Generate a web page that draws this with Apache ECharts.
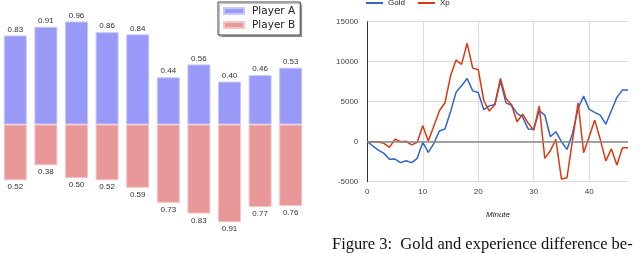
<!DOCTYPE html>
<html><head><meta charset="utf-8">
<script src="https://cdn.jsdelivr.net/npm/echarts@6/dist/echarts.min.js"></script>
<style>html,body{margin:0;padding:0;background:#fff}#c{width:640px;height:253px}</style>
</head><body><div id="c"></div>
<script>
const barCategories = ['1','2','3','4','5','6','7','8','9','10'];
const playerA = [0.83, 0.91, 0.96, 0.86, 0.84, 0.44, 0.56, 0.40, 0.46, 0.53];
const playerB = [0.52, 0.38, 0.50, 0.52, 0.59, 0.73, 0.83, 0.91, 0.77, 0.76];

const minutes = [0,1,2,3,4,5,6,7,8,9,10,11,12,13,14,15,16,17,18,19,20,21,22,23,24,25,26,27,28,29,30,31,32,33,34,35,36,37,38,39,40,41,42,43,44,45,46,47];
const gold = [0,-540,-1040,-1460,-2200,-2170,-2620,-2380,-2620,-2080,
  -80,-1330,-200,1330,1580,3750,6170,7000,7900,6350,
  6150,4000,4480,4650,7600,4850,4560,3540,3080,1600,
  1560,3875,3330,625,1250,0,-960,1040,4170,5700,
  4040,3670,3330,2200,3875,5540,6460,6460];
const xp = [0,0,-50,-200,-700,330,0,50,-400,-80,
  2000,80,1960,3870,4870,8200,10200,9670,12300,9200,
  9000,5150,3830,4650,7920,5400,4630,2500,3440,2330,
  1450,4460,-2080,-1125,290,-4670,-4500,200,4870,-1375,
  625,2700,290,-2400,-900,-2900,-750,-750];
const lineYTicks = {min:-5000, max:15000, step:5000};
const lineXTicks = {min:0, max:47, step:10};

const chart = echarts.init(document.getElementById('c'), null, {renderer:'canvas'});
const numFont = 'Liberation Sans, Arial, sans-serif';
chart.setOption({
  animation:false,
  backgroundColor:'#fff',
  grid:[
    {left:0, top:17.2, width:306, height:214.6},
    {left:367.3, top:21.7, right:12, height:160}
  ],
  xAxis:[
    {gridIndex:0, type:'category', data:barCategories, show:false},
    {gridIndex:1, type:'value', min:lineXTicks.min, max:lineXTicks.max, interval:lineXTicks.step,
      axisLine:{show:false}, axisTick:{show:false},
      axisLabel:{color:'#444', fontSize:8, fontFamily:numFont, margin:6, showMaxLabel:false, showMinLabel:true,
        formatter:v=>String(v)},
      splitLine:{show:true, showMaxLine:false, showMinLine:false, lineStyle:{color:'#dcdcdc', width:1}}}
  ],
  yAxis:[
    {gridIndex:0, type:'value', min:-1, max:1, show:false},
    {gridIndex:1, type:'value', min:lineYTicks.min, max:lineYTicks.max, interval:lineYTicks.step,
      axisLine:{show:true, lineStyle:{color:'#333', width:1}}, axisTick:{show:false},
      axisLabel:{color:'#444', fontSize:8, fontFamily:numFont, margin:9, formatter:v=>String(v)},
      splitLine:{show:true, lineStyle:{color:'#dcdcdc', width:1}}}
  ],
  legend:[
    {data:['Player A','Player B'], left:218, top:2, orient:'vertical', icon:'rect',
      itemWidth:20, itemHeight:6, itemGap:0, padding:[2,5,3,5],
      borderColor:'#444', borderWidth:1, backgroundColor:'#fff',
      shadowColor:'rgba(0,0,0,0.3)', shadowBlur:1, shadowOffsetX:1.5, shadowOffsetY:1.5,
      textStyle:{fontFamily:'DejaVu Sans, sans-serif', fontSize:10.5, color:'#222', lineHeight:14, padding:[0,0,0,3]}},
    {data:['Gold','Xp'], left:366, top:-1, icon:'rect', itemWidth:17, itemHeight:2, itemGap:13, padding:0,
      textStyle:{fontFamily:numFont, fontSize:8, color:'#222'}}
  ],
  series:[
    {name:'Player A', type:'bar', xAxisIndex:0, yAxisIndex:0, data:playerA, barWidth:23,
      itemStyle:{color:'#9999f7', borderColor:'#c6c6fb', borderWidth:1},
      label:{show:true, position:'top', distance:2, fontSize:8, fontFamily:numFont, color:'#333',
        formatter:p=>p.value.toFixed(2)}},
    {name:'Player B', type:'bar', xAxisIndex:0, yAxisIndex:0, data:playerB.map(v=>-v), barWidth:23, barGap:'-100%',
      itemStyle:{color:'#e89898', borderColor:'#f3c6c6', borderWidth:1},
      label:{show:true, position:'bottom', distance:3, fontSize:8, fontFamily:numFont, color:'#333',
        formatter:p=>Math.abs(p.value).toFixed(2)}},
    {name:'Gold', type:'line', xAxisIndex:1, yAxisIndex:1, data:minutes.map((m,i)=>[m,gold[i]]),
      showSymbol:false, color:'#3366cc', lineStyle:{color:'#3366cc', width:1.5},
      markLine:{silent:true, symbol:'none', label:{show:false}, lineStyle:{color:'#888', width:1.5, type:'solid'},
        data:[{yAxis:0}]}},
    {name:'Xp', type:'line', xAxisIndex:1, yAxisIndex:1, data:minutes.map((m,i)=>[m,xp[i]]),
      showSymbol:false, color:'#dc3912', lineStyle:{color:'#dc3912', width:1.5}}
  ],
  graphic:[
    {type:'text', x:498, y:215, style:{text:'Minute', fill:'#222', font:'italic 8px Liberation Sans, Arial, sans-serif', align:'center', verticalAlign:'middle'}},
    {type:'text', x:332, y:244.5, style:{text:'Figure 3:  Gold and experience difference be-', fill:'#111', font:'16.5px Liberation Serif, Times New Roman, serif', align:'left', verticalAlign:'middle'}}
  ]
});
</script></body></html>
